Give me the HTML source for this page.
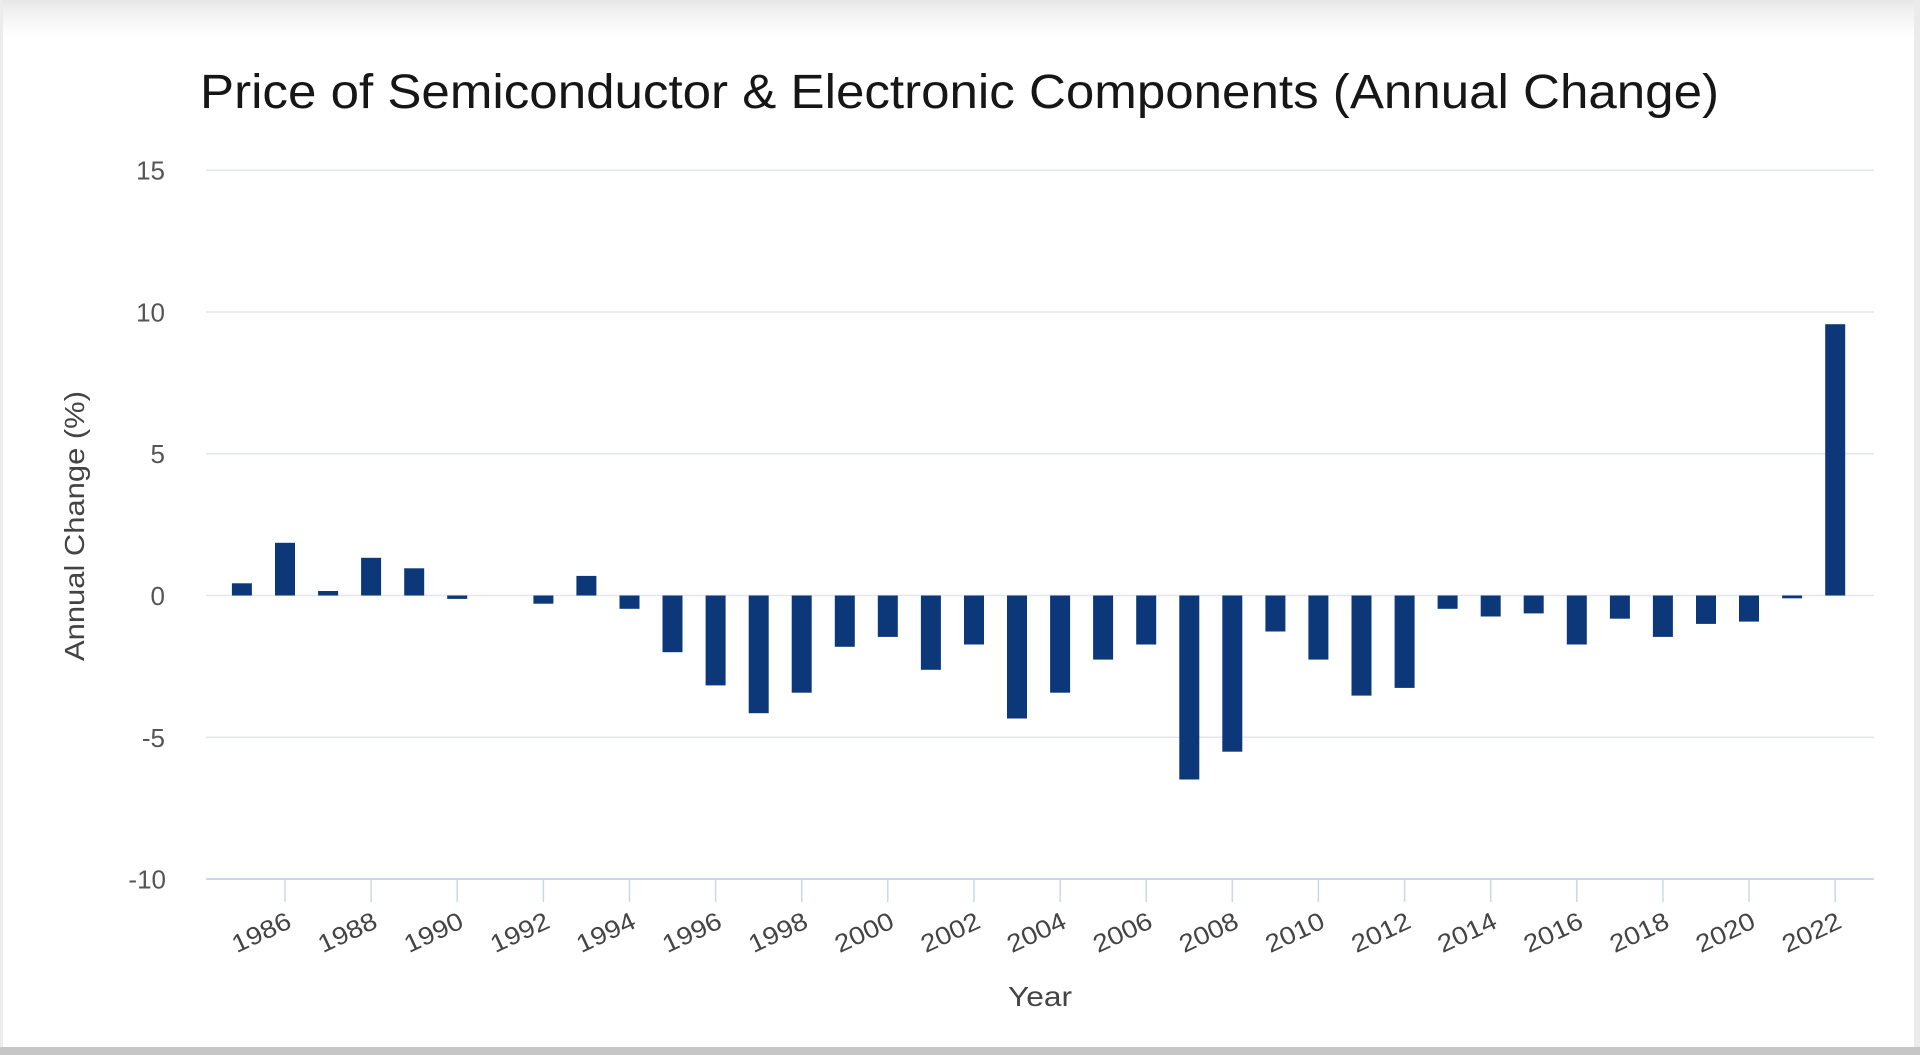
<!DOCTYPE html>
<html>
<head>
<meta charset="utf-8">
<style>
  html,body{margin:0;padding:0;background:#fff;}
  body{width:1920px;height:1055px;overflow:hidden;position:relative;}
  svg{position:absolute;left:0;top:0;}
</style>
</head>
<body>
<svg width="1920" height="1055" viewBox="0 0 1920 1055" xmlns="http://www.w3.org/2000/svg">
  <defs>
    <linearGradient id="topg" x1="0" y1="0" x2="0" y2="1">
      <stop offset="0" stop-color="#e6e6e6"/>
      <stop offset="0.25" stop-color="#f0f0f0"/>
      <stop offset="1" stop-color="#ffffff"/>
    </linearGradient>
  </defs>
  <rect x="0" y="0" width="1920" height="1055" fill="#ffffff"/>
  <rect x="0" y="0" width="1920" height="38" fill="url(#topg)"/>
  <rect x="0" y="0" width="3" height="1055" fill="#ececec"/>
  <rect x="1914" y="0" width="6" height="1055" fill="#ebebeb"/>
  <rect x="0" y="1047" width="1920" height="8" fill="#c6c6c6"/>

  <!-- Title -->
  <text x="200" y="108" font-family="Liberation Sans, Arial, sans-serif" font-size="48" fill="#161616" textLength="1519" lengthAdjust="spacingAndGlyphs">Price of Semiconductor &amp; Electronic Components (Annual Change)</text>

  <!-- Gridlines -->
  <g stroke="#e3e6ea" stroke-width="1.5">
    <line x1="206" y1="170.2" x2="1874" y2="170.2"/>
    <line x1="206" y1="312" x2="1874" y2="312"/>
    <line x1="206" y1="453.8" x2="1874" y2="453.8"/>
    <line x1="206" y1="595.5" x2="1874" y2="595.5"/>
    <line x1="206" y1="737.3" x2="1874" y2="737.3"/>
  </g>
  <!-- X axis line -->
  <line x1="206" y1="879" x2="1874" y2="879" stroke="#ccd6eb" stroke-width="2"/>

  <!-- Y labels -->
  <g font-family="Liberation Sans, Arial, sans-serif" font-size="26" fill="#555" text-anchor="end">
    <text x="165" y="179.5">15</text>
    <text x="165" y="321.5">10</text>
    <text x="165" y="463">5</text>
    <text x="165" y="605">0</text>
    <text x="165" y="747">-5</text>
    <text x="166" y="888.5">-10</text>
  </g>

  <!-- Y title -->
  <text transform="translate(84,526) rotate(-90)" text-anchor="middle" font-family="Liberation Sans, Arial, sans-serif" font-size="28" fill="#444" textLength="270" lengthAdjust="spacingAndGlyphs">Annual Change (%)</text>

  <!-- Bars -->
  <g fill="#0c387a">
    <rect x="231.9" y="583.3" width="20" height="12.2"/>
    <rect x="275" y="542.8" width="20" height="52.7"/>
    <rect x="318.1" y="591" width="20" height="4.5"/>
    <rect x="361.1" y="557.8" width="20" height="37.7"/>
    <rect x="404.2" y="568.3" width="20" height="27.2"/>
    <rect x="447.2" y="595.5" width="20" height="3.4"/>
    <rect x="533.4" y="595.5" width="20" height="8.2"/>
    <rect x="576.4" y="575.9" width="20" height="19.6"/>
    <rect x="619.5" y="595.5" width="20" height="13.3"/>
    <rect x="662.5" y="595.5" width="20" height="56.7"/>
    <rect x="705.6" y="595.5" width="20" height="89.9"/>
    <rect x="748.7" y="595.5" width="20" height="117.7"/>
    <rect x="791.7" y="595.5" width="20" height="97.2"/>
    <rect x="834.8" y="595.5" width="20" height="51.3"/>
    <rect x="877.8" y="595.5" width="20" height="41.4"/>
    <rect x="920.9" y="595.5" width="20" height="74.3"/>
    <rect x="964.0" y="595.5" width="20" height="49"/>
    <rect x="1007.0" y="595.5" width="20" height="123"/>
    <rect x="1050.1" y="595.5" width="20" height="97.2"/>
    <rect x="1093.1" y="595.5" width="20" height="64.1"/>
    <rect x="1136.2" y="595.5" width="20" height="49"/>
    <rect x="1179.3" y="595.5" width="20" height="184"/>
    <rect x="1222.3" y="595.5" width="20" height="156.2"/>
    <rect x="1265.4" y="595.5" width="20" height="36"/>
    <rect x="1308.4" y="595.5" width="20" height="64.1"/>
    <rect x="1351.5" y="595.5" width="20" height="100.1"/>
    <rect x="1394.6" y="595.5" width="20" height="92.4"/>
    <rect x="1437.6" y="595.5" width="20" height="13.3"/>
    <rect x="1480.7" y="595.5" width="20" height="21"/>
    <rect x="1523.7" y="595.5" width="20" height="17.9"/>
    <rect x="1566.8" y="595.5" width="20" height="49"/>
    <rect x="1609.9" y="595.5" width="20" height="23.2"/>
    <rect x="1652.9" y="595.5" width="20" height="41.4"/>
    <rect x="1696.0" y="595.5" width="20" height="28.4"/>
    <rect x="1739.0" y="595.5" width="20" height="26.1"/>
    <rect x="1782.1" y="595.5" width="20" height="2.8"/>
    <rect x="1825.2" y="324.2" width="20" height="271.3"/>
  </g>

  <!-- Ticks -->
  <g stroke="#ccd6eb" stroke-width="1.5">
    <line x1="285" y1="879" x2="285" y2="902"/>
    <line x1="371.1" y1="879" x2="371.1" y2="902"/>
    <line x1="457.2" y1="879" x2="457.2" y2="902"/>
    <line x1="543.4" y1="879" x2="543.4" y2="902"/>
    <line x1="629.5" y1="879" x2="629.5" y2="902"/>
    <line x1="715.6" y1="879" x2="715.6" y2="902"/>
    <line x1="801.7" y1="879" x2="801.7" y2="902"/>
    <line x1="887.8" y1="879" x2="887.8" y2="902"/>
    <line x1="974" y1="879" x2="974" y2="902"/>
    <line x1="1060.1" y1="879" x2="1060.1" y2="902"/>
    <line x1="1146.2" y1="879" x2="1146.2" y2="902"/>
    <line x1="1232.3" y1="879" x2="1232.3" y2="902"/>
    <line x1="1318.4" y1="879" x2="1318.4" y2="902"/>
    <line x1="1404.6" y1="879" x2="1404.6" y2="902"/>
    <line x1="1490.7" y1="879" x2="1490.7" y2="902"/>
    <line x1="1576.8" y1="879" x2="1576.8" y2="902"/>
    <line x1="1662.9" y1="879" x2="1662.9" y2="902"/>
    <line x1="1749" y1="879" x2="1749" y2="902"/>
    <line x1="1835.2" y1="879" x2="1835.2" y2="902"/>
  </g>

  <!-- X labels -->
  <g font-family="Liberation Sans, Arial, sans-serif" font-size="25" fill="#444" text-anchor="end">
    <text transform="translate(293,927) rotate(-25)" textLength="62" lengthAdjust="spacingAndGlyphs">1986</text>
    <text transform="translate(379.1,927) rotate(-25)" textLength="62" lengthAdjust="spacingAndGlyphs">1988</text>
    <text transform="translate(465.2,927) rotate(-25)" textLength="62" lengthAdjust="spacingAndGlyphs">1990</text>
    <text transform="translate(551.4,927) rotate(-25)" textLength="62" lengthAdjust="spacingAndGlyphs">1992</text>
    <text transform="translate(637.5,927) rotate(-25)" textLength="62" lengthAdjust="spacingAndGlyphs">1994</text>
    <text transform="translate(723.6,927) rotate(-25)" textLength="62" lengthAdjust="spacingAndGlyphs">1996</text>
    <text transform="translate(809.7,927) rotate(-25)" textLength="62" lengthAdjust="spacingAndGlyphs">1998</text>
    <text transform="translate(895.8,927) rotate(-25)" textLength="62" lengthAdjust="spacingAndGlyphs">2000</text>
    <text transform="translate(982,927) rotate(-25)" textLength="62" lengthAdjust="spacingAndGlyphs">2002</text>
    <text transform="translate(1068.1,927) rotate(-25)" textLength="62" lengthAdjust="spacingAndGlyphs">2004</text>
    <text transform="translate(1154.2,927) rotate(-25)" textLength="62" lengthAdjust="spacingAndGlyphs">2006</text>
    <text transform="translate(1240.3,927) rotate(-25)" textLength="62" lengthAdjust="spacingAndGlyphs">2008</text>
    <text transform="translate(1326.4,927) rotate(-25)" textLength="62" lengthAdjust="spacingAndGlyphs">2010</text>
    <text transform="translate(1412.6,927) rotate(-25)" textLength="62" lengthAdjust="spacingAndGlyphs">2012</text>
    <text transform="translate(1498.7,927) rotate(-25)" textLength="62" lengthAdjust="spacingAndGlyphs">2014</text>
    <text transform="translate(1584.8,927) rotate(-25)" textLength="62" lengthAdjust="spacingAndGlyphs">2016</text>
    <text transform="translate(1670.9,927) rotate(-25)" textLength="62" lengthAdjust="spacingAndGlyphs">2018</text>
    <text transform="translate(1757,927) rotate(-25)" textLength="62" lengthAdjust="spacingAndGlyphs">2020</text>
    <text transform="translate(1843.2,927) rotate(-25)" textLength="62" lengthAdjust="spacingAndGlyphs">2022</text>
  </g>

  <!-- X title -->
  <text x="1040" y="1006" text-anchor="middle" font-family="Liberation Sans, Arial, sans-serif" font-size="28" fill="#444" textLength="64" lengthAdjust="spacingAndGlyphs">Year</text>
</svg>
</body>
</html>
